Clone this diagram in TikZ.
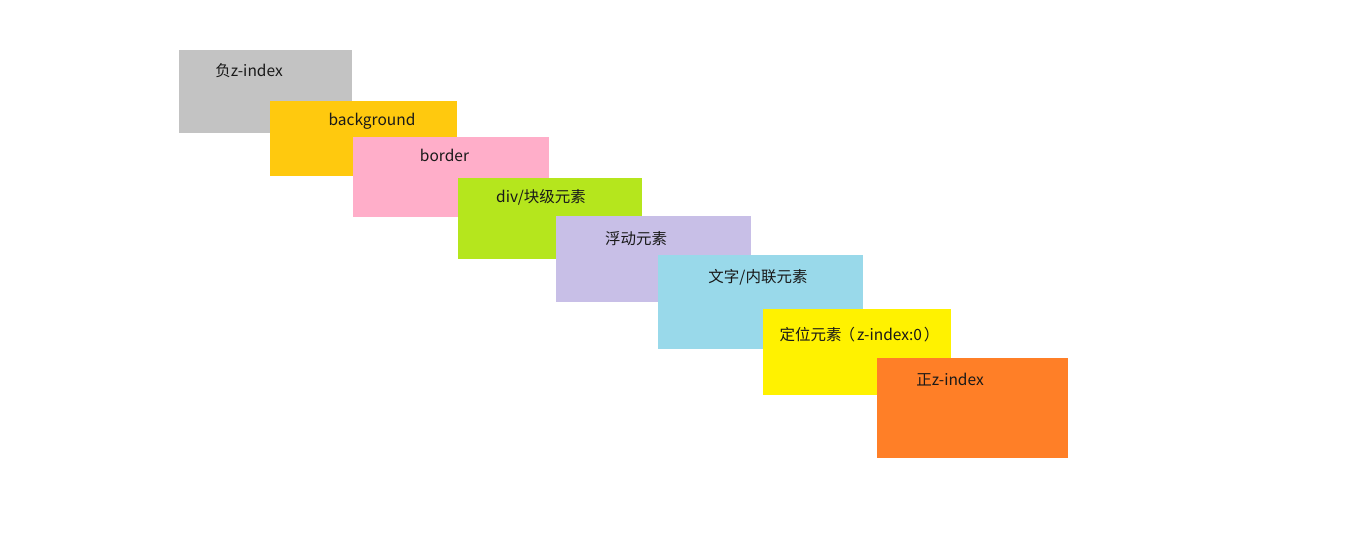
\documentclass[tikz,border=0pt]{standalone}
\usepackage{fontspec}
\setmainfont{Noto Sans CJK SC}
\definecolor{cgray}{HTML}{C3C3C3}
\definecolor{cbg}{HTML}{FFC90E}
\definecolor{cpink}{HTML}{FFAEC9}
\definecolor{cgreen}{HTML}{B5E61D}
\definecolor{clav}{HTML}{C8BFE7}
\definecolor{cblue}{HTML}{99D9EA}
\definecolor{cyel}{HTML}{FFF200}
\definecolor{corange}{HTML}{FF7F27}
\tikzset{
  layer/.style={rectangle, inner sep=0pt, outer sep=0pt, draw=none},
  lbl/.style={inner sep=0pt, font=\fontsize{15.5}{17}\selectfont, text=black!90, text height=11pt, text depth=3pt}
}
\begin{document}
\begin{tikzpicture}[x=1pt,y=-1pt]
\useasboundingbox (0,0) rectangle (1346,543);
\fill[white] (0,0) rectangle (1346,543);
\node[layer, fill=cgray, minimum width=173pt, minimum height=83pt, anchor=north west] (r1) at (179,50) {};
\node[lbl] (t1) at (249,72) {负z-index};
\node[layer, fill=cbg, minimum width=187pt, minimum height=75pt, anchor=north west] (r2) at (270,101) {};
\node[lbl] (t2) at (372,121) {background};
\node[layer, fill=cpink, minimum width=196pt, minimum height=80pt, anchor=north west] (r3) at (353,137) {};
\node[lbl] (t3) at (444.5,157) {border};
\node[layer, fill=cgreen, minimum width=184pt, minimum height=81pt, anchor=north west] (r4) at (458,178) {};
\node[lbl] (t4) at (541,198) {div/块级元素};
\node[layer, fill=clav, minimum width=195pt, minimum height=86pt, anchor=north west] (r5) at (556,216) {};
\node[lbl] (t5) at (636,240) {浮动元素};
\node[layer, fill=cblue, minimum width=205pt, minimum height=94pt, anchor=north west] (r6) at (658,255) {};
\node[lbl] (t6) at (758,278) {文字/内联元素};
\node[layer, fill=cyel, minimum width=188pt, minimum height=86pt, anchor=north west] (r7) at (763,309) {};
\node[lbl] (t7) at (859.5,336) {定位元素\hspace{-2pt}（\hspace{2pt}z-index:0\hspace{2pt}）\hspace{-2pt}};
\node[layer, fill=corange, minimum width=191pt, minimum height=100pt, anchor=north west] (r8) at (877,358) {};
\node[lbl] (t8) at (950,381) {正z-index};
\end{tikzpicture}
\end{document}
